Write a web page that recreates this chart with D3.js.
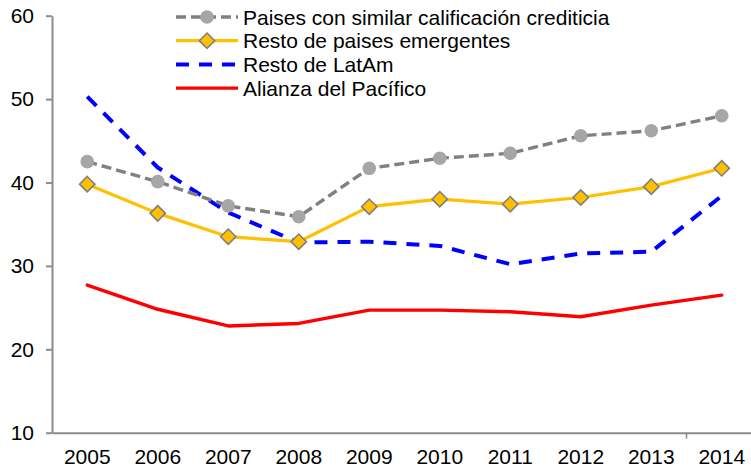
<!DOCTYPE html>
<html>
<head>
<meta charset="utf-8">
<script src="https://cdn.jsdelivr.net/npm/d3@7"></script>
<style>
  body { margin: 0; background: #fff; }
  svg { font-family: Arial, "Liberation Sans", sans-serif; }
</style>
</head>
<body>
<svg id="chart" width="751" height="469"></svg>
<script>
"use strict";

// data
var years = ['2005', '2006', '2007', '2008', '2009', '2010', '2011', '2012', '2013', '2014'];
var similarRating = [42.5, 40.1, 37.2, 35.9, 41.7, 42.9, 43.5, 45.6, 46.2, 48.0];
var otherEmerging = [39.8, 36.3, 33.5, 32.9, 37.1, 38.0, 37.4, 38.2, 39.5, 41.7];
var restLatAm = [50.3, 41.8, 36.4, 32.8, 32.9, 32.4, 30.2, 31.5, 31.7, 38.4];
var pacificAlliance = [27.7, 24.8, 22.8, 23.1, 24.7, 24.7, 24.5, 23.9, 25.3, 26.5];
var yTicks = [10, 20, 30, 40, 50, 60];

var series = [
	{ name: 'Paises con similar calificación crediticia', values: similarRating,
		color: '#808080', width: 3.4, dash: '10,5', marker: 'circle' },
	{ name: 'Resto de paises emergentes', values: otherEmerging,
		color: '#FFC000', width: 3.2, dash: null, marker: 'diamond' },
	{ name: 'Resto de LatAm', values: restLatAm,
		color: '#0000FF', width: 4, dash: '13,10', marker: null },
	{ name: 'Alianza del Pacífico', values: pacificAlliance,
		color: '#FF0000', width: 3.4, dash: null, marker: null }
];

var svg = d3.select('#chart');
var margin = { left: 52, top: 16, right: -6, bottom: 36 };
var W = 751, H = 469;
var FONT = 21;

var x = d3.scaleBand()
	.domain(years)
	.range([margin.left, W - margin.right]);
var y = d3.scaleLinear()
	.domain([10, 60])
	.range([432.7, 15.7]);

var axisColor = '#8c8c8c';

// y axis
var yaxisG = svg.append('g')
	.attr('transform', 'translate(' + margin.left + ',0)')
	.call(d3.axisLeft(y).tickValues(yTicks).tickSize(6).tickPadding(12).tickSizeOuter(0));
yaxisG.select('.domain').attr('stroke', axisColor).attr('stroke-width', 2);
yaxisG.selectAll('.tick line').attr('stroke', axisColor).attr('stroke-width', 2);
yaxisG.selectAll('.tick text')
	.attr('font-size', FONT)
	.attr('font-family', 'Arial, "Liberation Sans", sans-serif')
	.attr('fill', '#000');

// x axis
var xaxisG = svg.append('g')
	.attr('transform', 'translate(0,' + y(10) + ')')
	.call(d3.axisBottom(x).tickSize(0).tickPadding(16));
xaxisG.select('.domain').attr('stroke', axisColor).attr('stroke-width', 2);
xaxisG.selectAll('.tick text')
	.attr('font-size', FONT)
	.attr('font-family', 'Arial, "Liberation Sans", sans-serif')
	.attr('fill', '#000');
// the only visible category tick, between 2013 and 2014
xaxisG.append('line')
	.attr('x1', x('2014'))
	.attr('x2', x('2014'))
	.attr('y1', 0)
	.attr('y2', 6)
	.attr('stroke', axisColor)
	.attr('stroke-width', 1.5);

var cx = function(i) { return x(years[i]) + x.bandwidth() / 2; };
var line = d3.line()
	.x(function(d, i) { return cx(i); })
	.y(function(d) { return y(d); });

function drawMarker(g, type, px, py, color) {
	if (type === 'circle') {
		g.append('circle')
			.attr('cx', px).attr('cy', py).attr('r', 6.8)
			.attr('fill', '#a6a6a6');
	} else if (type === 'diamond') {
		g.append('path')
			.attr('d', d3.symbol().type(d3.symbolDiamond2).size(150)())
			.attr('transform', 'translate(' + px + ',' + py + ')')
			.attr('fill', color)
			.attr('stroke', '#7f7f7f')
			.attr('stroke-width', 1.6);
	}
}

// draw series in reverse so the first legend entry sits on top
var plotG = svg.append('g');
series.slice().reverse().forEach(function(s) {
	var g = plotG.append('g');
	g.append('path')
		.datum(s.values)
		.attr('d', line)
		.attr('fill', 'none')
		.attr('stroke', s.color)
		.attr('stroke-width', s.width)
		.attr('stroke-dasharray', s.dash)
		.attr('stroke-linecap', s.dash ? 'butt' : 'round')
		.attr('stroke-linejoin', 'round');
	if (s.marker) {
		s.values.forEach(function(v, i) {
			drawMarker(g, s.marker, cx(i), y(v), s.color);
		});
	}
});

// legend
var legendG = svg.append('g');
var LEG_X0 = 176, LEG_X1 = 238, LEG_Y0 = 17, LEG_DY = 23.7;
series.forEach(function(s, i) {
	var ly = LEG_Y0 + i * LEG_DY;
	var row = legendG.append('g');
	row.append('line')
		.attr('x1', LEG_X0).attr('x2', LEG_X1)
		.attr('y1', ly).attr('y2', ly)
		.attr('stroke', s.color)
		.attr('stroke-width', s.width)
		.attr('stroke-dasharray', s.dash);
	if (s.marker)
		drawMarker(row, s.marker, (LEG_X0 + LEG_X1) / 2, ly, s.color);
	row.append('text')
		.attr('x', 243)
		.attr('y', ly)
		.attr('dy', '0.36em')
		.attr('font-size', FONT)
		.attr('fill', '#000')
		.text(s.name);
});
</script>
</body>
</html>
